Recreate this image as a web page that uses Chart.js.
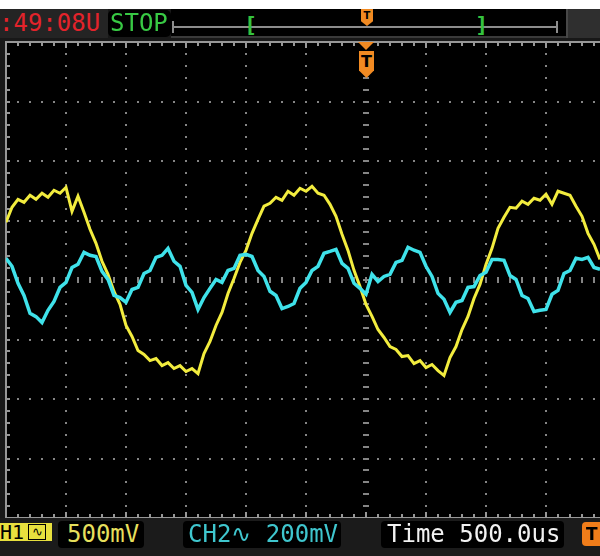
<!DOCTYPE html>
<html>
<head>
<meta charset="utf-8">
<script src="https://cdn.jsdelivr.net/npm/chart.js@4.4.0/dist/chart.umd.min.js"></script>
<style>
  html, body { margin: 0; padding: 0; width: 600px; height: 556px; overflow: hidden; background: #fff; }
  .abs { position: absolute; }
  .mono { font-family: "DejaVu Sans Mono", monospace; white-space: pre; }
  #scope { left: 0; top: 9px; width: 600px; height: 547px; background: #181818; }
  #screen { left: 6px; top: 42px; width: 600px; height: 476px; background: #000; }
  #scopeCanvas { position: absolute; left: 0; top: 36px; z-index: 1; }
  .top { z-index: 2; }
  #clock { left: 0; top: 9px; width: 108px; height: 29px; background: #242424; color: #e3232b; font-size: 24px; line-height: 29px; text-indent: -1px; overflow: hidden; }
  #stop { left: 108px; top: 10px; width: 63px; height: 27px; background: #000; border-radius: 5px; color: #38c944; font-size: 24px; line-height: 27px; text-indent: 2px; }
  #trigbar { left: 171px; top: 9px; width: 395px; height: 27px; background: #000; border-bottom: 2px solid #3a3a3a; }
  #trigline { left: 173px; top: 26px; width: 384px; height: 2px; background: #8c8c8c; }
  .endtick { top: 21px; width: 2px; height: 12px; background: #8c8c8c; }
  .bracket { top: 12px; color: #35c23f; font-size: 22px; font-weight: bold; line-height: 26px; }
  #corner { left: 566px; top: 9px; width: 34px; height: 29px; background: #2f2f2f; border-left: 2px solid #474747; }
  .tmark { background: #f18a22; color: #000; text-align: center; font-family: "DejaVu Sans", sans-serif; font-weight: bold;
           clip-path: polygon(0 0, 100% 0, 100% 72%, 50% 100%, 0 72%); }
  #tsmall { left: 361px; top: 9px; width: 12px; height: 17px; font-size: 10px; line-height: 13px; }
  #tarrow { left: 358px; top: 42px; width: 0; height: 0; border-left: 8.5px solid transparent; border-right: 8.5px solid transparent; border-top: 8px solid #f18a22; }
  #tbig { left: 359px; top: 51px; width: 15px; height: 27px; font-size: 16px; line-height: 22px; }
  #bottom { left: 0; top: 518px; width: 600px; height: 38px; background: #1b1b1b; }
  .box { top: 521px; height: 27px; background: #000; border-radius: 4px; font-size: 24px; line-height: 27px; }
  #ch1tag { left: 0; top: 523px; width: 52px; height: 18px; background: #e8e03e; color: #000; font-size: 20px; line-height: 18px; overflow: hidden; }
  #ch1tag span { position: absolute; }
  #coup1 { left: 28px; top: 1px; width: 16px; height: 14px; border: 1px solid #000; font-size: 13px; line-height: 14px; text-align: center; }
  #ch1val { left: 58px; width: 86px; color: #e6df5c; text-indent: 9px; }
  #ch2 { left: 183px; width: 158px; color: #3fc6ce; text-indent: 5px; }
  #timebase { left: 381px; width: 183px; color: #f2f2f2; text-indent: 6px; }
  #tbox { left: 582px; top: 522px; width: 24px; height: 24px; background: #f07d1a; border-radius: 4px; color: #000; font-family: "DejaVu Sans", sans-serif; font-weight: bold; font-size: 17px; line-height: 24px; text-indent: 4px; }
</style>
</head>
<body>
<div id="scope" class="abs"></div>
<div id="screen" class="abs"></div>
<canvas id="scopeCanvas" width="730" height="488"></canvas>

<div id="clock" class="abs mono top">:49:08U</div>
<div id="stop" class="abs mono top">STOP</div>
<div id="trigbar" class="abs top"></div>
<div id="trigline" class="abs top"></div>
<div class="abs endtick top" style="left:172px"></div>
<div class="abs endtick top" style="left:556px"></div>
<div class="abs mono bracket top" style="left:244px">[</div>
<div class="abs mono bracket top" style="left:475px">]</div>
<div id="corner" class="abs top"></div>
<div id="tsmall" class="abs tmark top">T</div>
<div id="tarrow" class="abs top"></div>
<div id="tbig" class="abs tmark top">T</div>

<div id="bottom" class="abs top"></div>
<div id="ch1tag" class="abs mono top"><span style="left:-12px;top:0">CH1</span><span id="coup1">∿</span></div>
<div id="ch1val" class="abs mono box top">500mV</div>
<div id="ch2" class="abs mono box top">CH2∿ 200mV</div>
<div id="timebase" class="abs mono box top">Time 500.0us</div>
<div id="tbox" class="abs top">T</div>

<script>
// sample times (us, 0 = trigger) and the two channel readings (V)
const timeUs = [
  -3000,-2950,-2900,-2850,-2800,-2750,-2700,-2650,-2600,-2550,
  -2500,-2450,-2400,-2350,-2300,-2250,-2200,-2150,-2100,-2050,
  -2000,-1950,-1900,-1850,-1800,-1750,-1700,-1650,-1600,-1550,
  -1500,-1450,-1400,-1350,-1300,-1250,-1200,-1150,-1100,-1050,
  -1000,-950,-900,-850,-800,-750,-700,-650,-600,-550,
  -500,-450,-400,-350,-300,-250,-200,-150,-100,-50,
  0,50,100,150,200,250,300,350,400,450,
  500,550,600,650,700,750,800,850,900,950,
  1000,1050,1100,1150,1200,1250,1300,1350,1400,1450,
  1500,1550,1600,1650,1700,1750,1800,1850,1900,1950
];

const ch1Volts = [
  0.485,0.611,0.678,0.653,0.712,0.678,0.729,0.695,0.754,0.729,
  0.779,0.577,0.704,0.569,0.426,0.308,0.157,0.047,-0.096,-0.205,
  -0.382,-0.475,-0.593,-0.626,-0.677,-0.660,-0.719,-0.694,-0.744,-0.719,
  -0.769,-0.744,-0.786,-0.618,-0.517,-0.382,-0.273,-0.113,0.013,0.148,
  0.249,0.392,0.510,0.620,0.645,0.695,0.670,0.746,0.712,0.771,
  0.746,0.788,0.729,0.712,0.636,0.535,0.384,0.249,0.081,-0.054,
  -0.205,-0.306,-0.416,-0.483,-0.559,-0.584,-0.643,-0.635,-0.702,-0.677,
  -0.736,-0.710,-0.761,-0.803,-0.652,-0.559,-0.416,-0.306,-0.155,-0.037,
  0.131,0.266,0.434,0.527,0.611,0.603,0.662,0.636,0.687,0.670,
  0.721,0.636,0.746,0.729,0.712,0.620,0.535,0.392,0.300,0.173
];

const ch2Volts = [
  0.073,0.046,-0.011,-0.052,-0.112,-0.123,-0.143,-0.102,-0.072,-0.025,
  -0.008,0.042,0.053,0.093,0.083,0.079,0.029,0.002,-0.052,-0.059,
  -0.075,-0.032,-0.025,0.022,0.032,0.076,0.083,0.106,0.063,0.046,
  -0.018,-0.042,-0.099,-0.059,-0.028,0.002,-0.008,0.032,0.039,0.083,
  0.086,0.079,0.032,0.012,-0.038,-0.052,-0.096,-0.089,-0.079,-0.028,
  -0.008,0.032,0.046,0.090,0.096,0.103,0.056,0.039,-0.011,-0.028,
  -0.048,0.019,-0.005,0.012,0.019,0.059,0.066,0.110,0.100,0.093,
  0.046,0.012,-0.045,-0.065,-0.109,-0.075,-0.069,-0.025,-0.022,0.015,
  0.026,0.069,0.069,0.066,0.015,0.002,-0.052,-0.062,-0.106,-0.102,
  -0.099,-0.048,-0.035,0.022,0.032,0.073,0.069,0.076,0.042,0.036
];

// 500us/div, 500mV/div on CH1, 200mV/div on CH2; 12 x 8 divisions (right side cut off)
const timePerDiv = 500, ch1PerDiv = 0.5;

// dotted scope graticule + bordered frame
const scopeGrid = {
  id: 'scopeGrid',
  beforeDatasetsDraw(chart) {
    const { ctx, chartArea: a, scales } = chart;
    const x = scales.x, y = scales.yCh1;
    ctx.save();
    ctx.fillStyle = '#858585';
    const minorT = timePerDiv / 5, minorV = ch1PerDiv / 5;
    // vertical division lines
    for (let d = -5; d <= 5; d++) {
      const px = Math.round(x.getPixelForValue(d * timePerDiv));
      for (let m = -20; m <= 20; m++) {
        const py = Math.round(y.getPixelForValue(m * minorV));
        if (d === 0) ctx.fillRect(px - 3, py - 1, 6, 2);
        else ctx.fillRect(px - 1, py - 1, 2, 2);
      }
    }
    // horizontal division lines
    for (let d = -3; d <= 3; d++) {
      const py = Math.round(y.getPixelForValue(d * ch1PerDiv));
      for (let m = -30; m <= 30; m++) {
        const px = Math.round(x.getPixelForValue(m * minorT));
        if (d === 0) ctx.fillRect(px - 1, py - 3, 2, 6);
        else if (m % 5 !== 0) ctx.fillRect(px - 1, py - 1, 2, 2);
      }
    }
    // frame with ticks
    ctx.fillStyle = '#979797';
    ctx.fillRect(a.left, a.top - 1, a.right - a.left, 2);
    ctx.fillRect(a.left, a.bottom - 1, a.right - a.left, 2);
    ctx.fillRect(a.left - 1, a.top - 1, 2, a.bottom - a.top + 1);
    for (let m = -30; m <= 30; m++) {
      const px = Math.round(x.getPixelForValue(m * minorT));
      const len = m % 5 === 0 ? 6 : 4;
      ctx.fillRect(px - 1, a.top, 2, len);
      ctx.fillRect(px - 1, a.bottom - len, 2, len);
    }
    for (let m = -20; m <= 20; m++) {
      const py = Math.round(y.getPixelForValue(m * minorV));
      ctx.fillRect(a.left, py - 1, 4, 2);
    }
    ctx.restore();
  }
};

const ctx = document.getElementById('scopeCanvas').getContext('2d');
new Chart(ctx, {
  type: 'line',
  data: {
    datasets: [
      {
        label: 'CH1',
        data: timeUs.map((t, i) => ({ x: t, y: ch1Volts[i] })),
        borderColor: '#f2ec3e',
        borderWidth: 3,
        pointRadius: 0,
        tension: 0,
        yAxisID: 'yCh1',
        order: 2
      },
      {
        label: 'CH2',
        data: timeUs.map((t, i) => ({ x: t, y: ch2Volts[i] })),
        borderColor: '#3fe2ea',
        borderWidth: 3.5,
        pointRadius: 0,
        tension: 0,
        yAxisID: 'yCh2',
        order: 1
      }
    ]
  },
  options: {
    responsive: false,
    animation: false,
    devicePixelRatio: 1,
    layout: { padding: { left: 6, top: 6, right: 4, bottom: 6 } },
    plugins: { legend: { display: false }, tooltip: { enabled: false } },
    scales: {
      x: { type: 'linear', min: -3000, max: 3000, display: false },
      yCh1: { min: -2, max: 2, display: false },
      yCh2: { min: -0.8, max: 0.8, display: false }
    }
  },
  plugins: [scopeGrid]
});
</script>
</body>
</html>
